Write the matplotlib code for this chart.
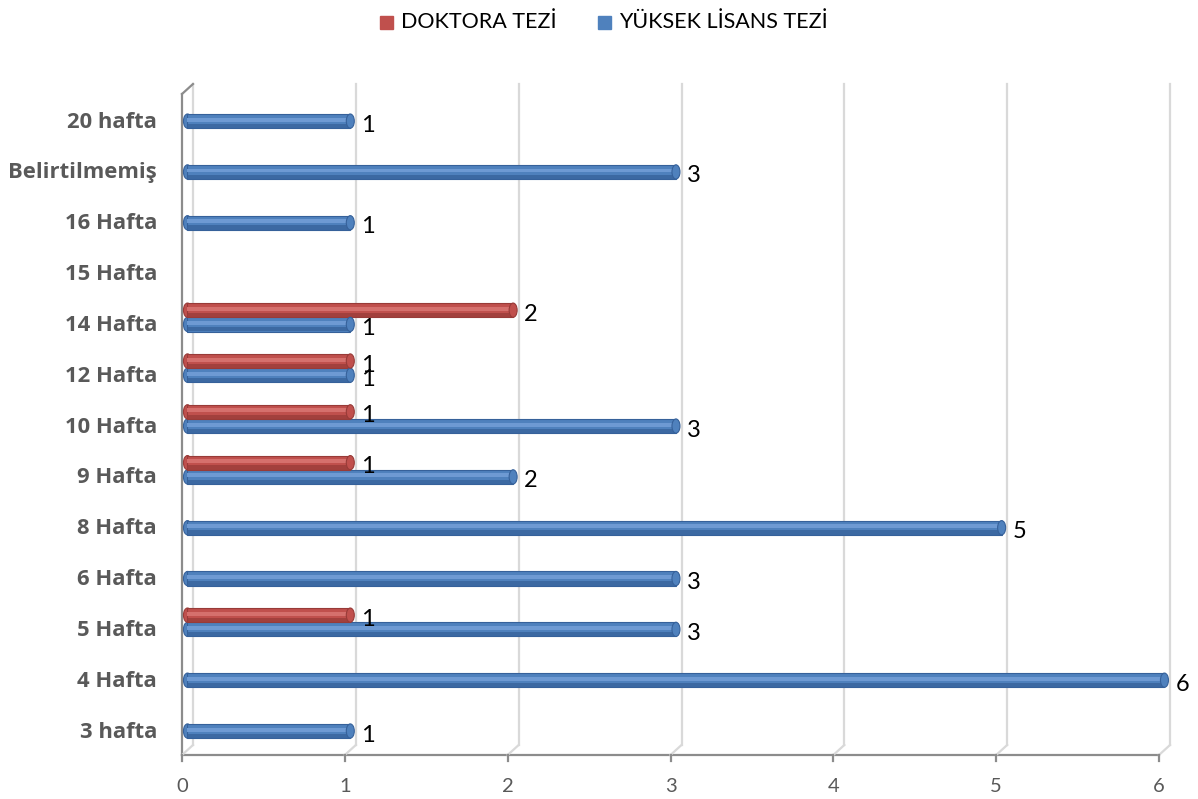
import numpy as np
import matplotlib
matplotlib.use("Agg")
import matplotlib.pyplot as plt
import matplotlib.transforms as mtrans
from matplotlib.patches import Ellipse, Rectangle

# ---- data ----
categories = ["3 hafta", "4 Hafta", "5 Hafta", "6 Hafta", "8 Hafta", "9 Hafta",
              "10 Hafta", "12 Hafta", "14 Hafta", "15 Hafta", "16 Hafta",
              "Belirtilmemiş", "20 hafta"]
yuksek_lisans = [1, 6, 3, 3, 5, 2, 3, 1, 1, np.nan, 1, 3, 1]
doktora = [np.nan, np.nan, 1, np.nan, np.nan, 1, 1, 1, 2, np.nan, np.nan, np.nan, np.nan]
series_names = ["DOKTORA TEZİ", "YÜKSEK LİSANS TEZİ"]
xticks = [0, 1, 2, 3, 4, 5, 6]

plt.rcParams['font.family'] = ['Lato', 'DejaVu Sans']

W, H = 1198, 799
fig = plt.figure(figsize=(W / 100, H / 100), dpi=100)

# back-wall box in pixel coordinates
bx0, bx1, by_top, by_bot = 193, 1170, 84, 745
ax = fig.add_axes([bx0 / W, 1 - by_bot / H, (bx1 - bx0) / W, (by_bot - by_top) / H])
ax.set_xlim(0, 6)
ax.set_ylim(-0.275, 12.73)
ax.axis('off')

# offset transform to the front plane
front = ax.transData + mtrans.ScaledTranslation(-11 / 100, -10 / 100, fig.dpi_scale_trans)
ymin, ymax = ax.get_ylim()

grid_c = '#d9d9d9'
axis_c = '#8c8c8c'

# gridlines on back wall + slant to front
for xv in xticks:
    ax.plot([xv, xv], [ymin, ymax], color=grid_c, lw=1.6, zorder=1, clip_on=False)
    p_back = ax.transData.transform((xv, ymin))
    p_front = front.transform((xv, ymin))
    fig.add_artist(plt.Line2D([p_back[0] / W, p_front[0] / W],
                              [p_back[1] / H, p_front[1] / H],
                              transform=fig.transFigure, color=grid_c, lw=1.6, zorder=1))

# left wall front edge
ax.plot([0, 0], [ymin, ymax], color=axis_c, lw=1.6, transform=front, clip_on=False, zorder=2)
pt_f = front.transform((0, ymax))
pt_b = ax.transData.transform((0, ymax))
fig.add_artist(plt.Line2D([pt_f[0] / W, pt_b[0] / W], [pt_f[1] / H, pt_b[1] / H],
                          transform=fig.transFigure, color=axis_c, lw=1.6, zorder=2))
# front horizontal axis
ax.plot([0, 6], [ymin, ymin], color=axis_c, lw=1.6, transform=front, clip_on=False, zorder=2)
for xv in xticks:
    p = front.transform((xv, ymin))
    fig.add_artist(plt.Line2D([p[0] / W, p[0] / W], [p[1] / H, (p[1] - 6) / H],
                              transform=fig.transFigure, color=axis_c, lw=1.6))
    fig.text(p[0] / W, (p[1] - 32) / H, str(xv), ha='center', va='center',
             fontsize=14.5, color='#595959')

# category labels
for i, c in enumerate(categories):
    p = ax.transData.transform((0, i))
    fig.text(157 / W, (p[1] - 1) / H, c, ha='right', va='center', fontsize=15.8,
             fontweight='bold', color='#595959', family=['Open Sans', 'DejaVu Sans'])

y = np.arange(len(categories))
bh = 0.28
left = -0.034


def cylinder(vals, ypos, base, dark, light):
    vals = np.asarray(vals, dtype=float)
    mask = ~np.isnan(vals)
    v = vals[mask]
    yy = ypos[mask]
    # body with outline
    ax.barh(yy, v, height=bh, left=left, color=base, edgecolor=dark, linewidth=0.8,
            zorder=3, clip_on=False)
    # darker lower part
    ax.barh(yy - bh * 0.34, v, height=bh * 0.3, left=left, color=dark, alpha=0.75,
            zorder=4, clip_on=False)
    # highlight band
    ax.barh(yy + bh * 0.1, v, height=bh * 0.28, left=left, color=light, zorder=5,
            clip_on=False)
    ew = 8 / 162.8
    for vi, yi in zip(v, yy):
        ax.add_patch(Ellipse((left + vi, yi), ew, bh, facecolor=base, edgecolor=dark,
                             linewidth=0.8, zorder=6, clip_on=False))
        ax.add_patch(Ellipse((left, yi), ew, bh, facecolor=base, edgecolor=dark,
                             linewidth=0.8, zorder=2.9, clip_on=False))
        ax.annotate(f"{int(vi)}", (left + vi, yi), xytext=(11, -4),
                    textcoords='offset pixels', ha='left', va='center',
                    fontsize=17, color='black', zorder=8, annotation_clip=False)


blue, blue_d, blue_l = '#4f81bd', '#36619a', '#6e9ad3'
red, red_d, red_l = '#c0504d', '#983b38', '#d5706d'

cylinder(yuksek_lisans, y.astype(float), blue, blue_d, blue_l)
cylinder(doktora, y.astype(float) + bh, red, red_d, red_l)

# legend
leg_y = 22
for (x_sq, x_txt, col, name) in [(380, 401, red, series_names[0]),
                                 (598, 619, blue, series_names[1])]:
    fig.add_artist(Rectangle((x_sq / W, (H - leg_y - 7) / H), 13 / W, 13 / H,
                             transform=fig.transFigure, color=col))
    fig.text(x_txt / W, (H - leg_y) / H, name, ha='left', va='center', fontsize=15.5,
             color='black')

fig.savefig("out.png", dpi=100)
